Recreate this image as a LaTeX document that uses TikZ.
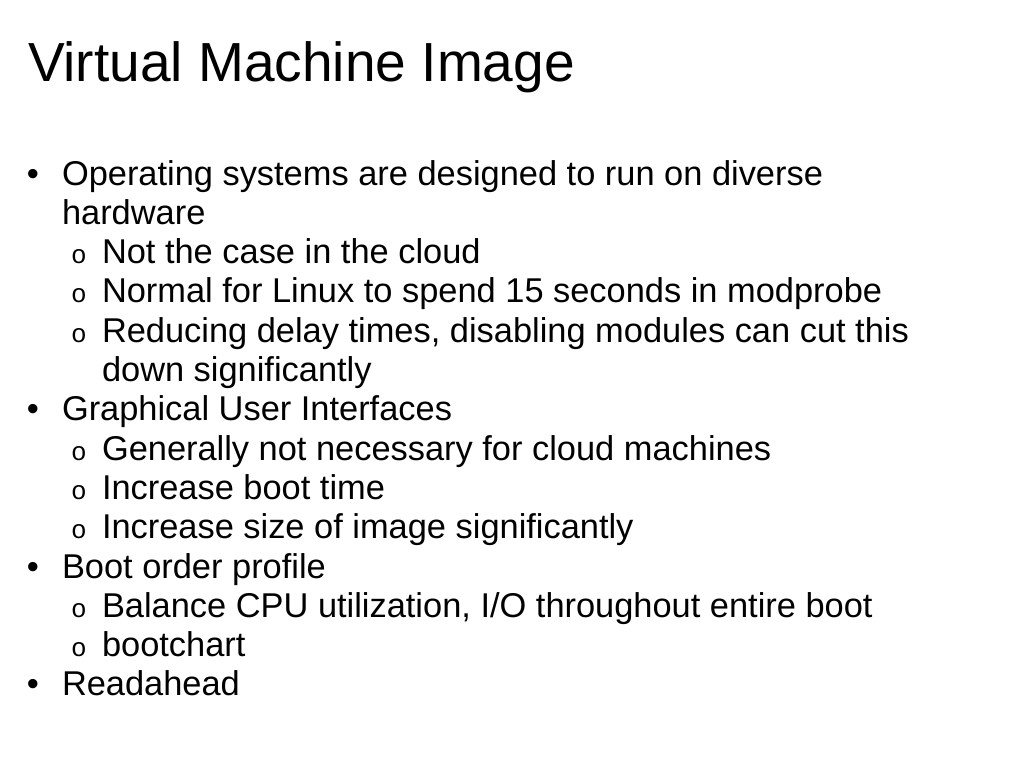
\documentclass[tikz,border=0pt]{standalone}
\usepackage{fontspec}
\setmainfont{Liberation Sans}
\setmonofont{Liberation Mono}
\begin{document}
\begin{tikzpicture}[x=0.75pt,y=-0.75pt,
  every node/.style={inner sep=0pt,outer sep=0pt,text=black},
  title/.style={anchor=base west,font=\fontsize{41.3}{50}\selectfont},
  body/.style={anchor=base west,font=\fontsize{25.8}{30}\selectfont},
  dot/.style={anchor=base,font=\fontsize{25.8}{30}\selectfont},
  ring/.style={anchor=base,font=\ttfamily\fontsize{19.5}{22}\selectfont}]
\useasboundingbox (0,0) rectangle (1023,767);
\fill[white] (0,0) rectangle (1023,767);
\node[title] (t) at (28,81.5) {Virtual Machine Image};
% level 1 bullets
\node[dot] (b0) at (33,185) {•};
\node[body] (l0) at (62,185) {Operating systems are designed to run on diverse};
\node[body] (l1) at (62,224.3) {hardware};
\node[ring] (r2) at (79,263.6) {o};
\node[body] (l2) at (102,263.6) {Not the case in the cloud};
\node[ring] (r3) at (79,302.9) {o};
\node[body] (l3) at (102,302.9) {Normal for Linux to spend 15 seconds in modprobe};
\node[ring] (r4) at (79,342.2) {o};
\node[body] (l4) at (102,342.2) {Reducing delay times, disabling modules can cut this};
\node[body] (l5) at (102,381.5) {down significantly};
\node[dot] (b6) at (33,420.8) {•};
\node[body] (l6) at (62,420.8) {Graphical User Interfaces};
\node[ring] (r7) at (79,460.1) {o};
\node[body] (l7) at (102,460.1) {Generally not necessary for cloud machines};
\node[ring] (r8) at (79,499.4) {o};
\node[body] (l8) at (102,499.4) {Increase boot time};
\node[ring] (r9) at (79,538.7) {o};
\node[body] (l9) at (102,538.7) {Increase size of image significantly};
\node[dot] (b10) at (33,578) {•};
\node[body] (l10) at (62,578) {Boot order profile};
\node[ring] (r11) at (79,617.3) {o};
\node[body] (l11) at (102,617.3) {Balance CPU utilization, I/O throughout entire boot};
\node[ring] (r12) at (79,656.6) {o};
\node[body] (l12) at (102,656.6) {bootchart};
\node[dot] (b13) at (33,695.9) {•};
\node[body] (l13) at (62,695.9) {Readahead};
\end{tikzpicture}
\end{document}
